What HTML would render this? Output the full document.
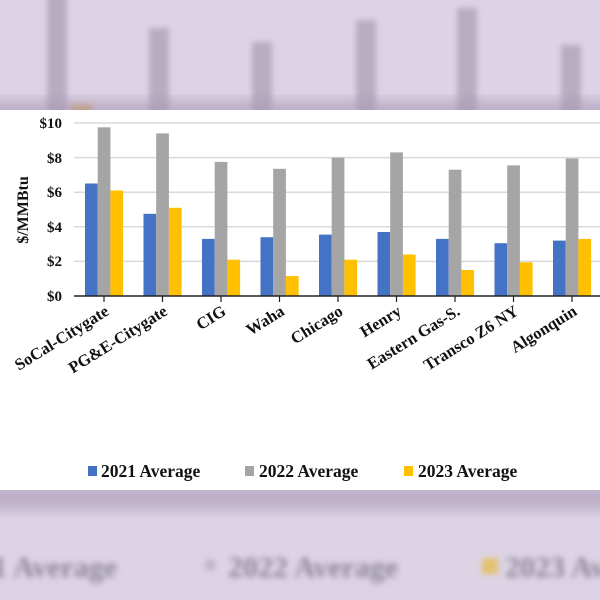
<!DOCTYPE html>
<html><head><style>
html,body{margin:0;padding:0;}
body{width:600px;height:600px;overflow:hidden;background:#dcd3e4;position:relative;font-family:"Liberation Serif",serif;}
</style></head><body>
<svg width="600" height="600" xmlns="http://www.w3.org/2000/svg" style="position:absolute;left:0;top:0">
<defs>
<filter id="b" x="-20%" y="-20%" width="140%" height="140%"><feGaussianBlur stdDeviation="3"/></filter>
<filter id="s" x="-10%" y="-30%" width="120%" height="160%"><feGaussianBlur stdDeviation="6"/></filter>
</defs>
<rect width="600" height="600" fill="#dcd3e4"/>
<g filter="url(#b)" fill="#b6adbf">
<rect x="47" y="-10" width="20" height="125"/>
<rect x="149" y="28" width="20" height="90"/>
<rect x="252" y="42" width="20" height="75"/>
<rect x="356" y="20" width="20" height="95"/>
<rect x="457" y="8" width="20" height="108"/>
<rect x="561" y="45" width="20" height="72"/>
<rect x="70" y="105" width="22" height="10" fill="#d9a860"/>
</g>
<rect x="-20" y="100" width="640" height="20" fill="#a898b4" filter="url(#s)" opacity="0.6"/>
<rect x="-20" y="485" width="640" height="25" fill="#a898b4" filter="url(#s)" opacity="0.6"/>
<g filter="url(#b)" font-family="Liberation Serif,serif" font-weight="bold" font-size="30" fill="#8e8796">
<text x="-8" y="577">1 Average</text>
<rect x="205" y="560" width="10" height="10" fill="#bdb6c4"/>
<text x="228" y="577">2022 Average</text>
<rect x="482" y="558" width="16" height="16" fill="#e3c170"/>
<text x="505" y="577">2023 Average</text>
</g>
<rect x="0" y="110" width="600" height="380" fill="#ffffff"/>
<g stroke="#d9d9d9" stroke-width="1.5">
<line x1="74" y1="123" x2="600" y2="123"/>
<line x1="74" y1="157.6" x2="600" y2="157.6"/>
<line x1="74" y1="192.2" x2="600" y2="192.2"/>
<line x1="74" y1="226.8" x2="600" y2="226.8"/>
<line x1="74" y1="261.4" x2="600" y2="261.4"/>
</g>
<g font-weight="bold" font-size="15" text-anchor="end" fill="#111">
<text x="62" y="128">$10</text>
<text x="62" y="163">$8</text>
<text x="62" y="197">$6</text>
<text x="62" y="232">$4</text>
<text x="62" y="266">$2</text>
<text x="62" y="301">$0</text>
</g>
<text transform="translate(28,210) rotate(-90)" text-anchor="middle" font-weight="bold" font-size="16" fill="#111">$/MMBtu</text>
<g fill="#4472c4">
<rect x="85" y="183.5" width="12.7" height="112.5"/>
<rect x="143.5" y="213.8" width="12.7" height="82.2"/>
<rect x="202" y="238.9" width="12.7" height="57.1"/>
<rect x="260.5" y="237.2" width="12.7" height="58.8"/>
<rect x="319" y="234.6" width="12.7" height="61.4"/>
<rect x="377.5" y="232" width="12.7" height="64"/>
<rect x="436" y="238.9" width="12.7" height="57.1"/>
<rect x="494.5" y="243.2" width="12.7" height="52.8"/>
<rect x="553" y="240.6" width="12.7" height="55.4"/>
</g>
<g fill="#a5a5a5">
<rect x="97.7" y="127.3" width="12.7" height="168.7"/>
<rect x="156.2" y="133.4" width="12.7" height="162.6"/>
<rect x="214.7" y="161.9" width="12.7" height="134.1"/>
<rect x="273.2" y="168.8" width="12.7" height="127.2"/>
<rect x="331.7" y="157.6" width="12.7" height="138.4"/>
<rect x="390.2" y="152.4" width="12.7" height="143.6"/>
<rect x="448.7" y="169.7" width="12.7" height="126.3"/>
<rect x="507.2" y="165.4" width="12.7" height="130.6"/>
<rect x="565.7" y="158.5" width="12.7" height="137.5"/>
</g>
<g fill="#ffc000">
<rect x="110.4" y="190.5" width="12.7" height="105.5"/>
<rect x="168.9" y="207.8" width="12.7" height="88.2"/>
<rect x="227.4" y="259.7" width="12.7" height="36.3"/>
<rect x="285.9" y="276.1" width="12.7" height="19.9"/>
<rect x="344.4" y="259.7" width="12.7" height="36.3"/>
<rect x="402.9" y="254.5" width="12.7" height="41.5"/>
<rect x="461.4" y="270" width="12.7" height="26"/>
<rect x="519.9" y="262.3" width="12.7" height="33.7"/>
<rect x="578.4" y="238.9" width="12.7" height="57.1"/>
</g>
<line x1="74" y1="296" x2="600" y2="296" stroke="#222" stroke-width="1.5"/>
<g stroke="#222" stroke-width="1.2">
<line x1="104" y1="296" x2="104" y2="302"/>
<line x1="162.5" y1="296" x2="162.5" y2="302"/>
<line x1="221" y1="296" x2="221" y2="302"/>
<line x1="279.5" y1="296" x2="279.5" y2="302"/>
<line x1="338" y1="296" x2="338" y2="302"/>
<line x1="396.5" y1="296" x2="396.5" y2="302"/>
<line x1="455" y1="296" x2="455" y2="302"/>
<line x1="513.5" y1="296" x2="513.5" y2="302"/>
<line x1="572" y1="296" x2="572" y2="302"/>
</g>
<g font-weight="bold" font-size="16.5" fill="#111" text-anchor="end">
<text transform="translate(110,314) rotate(-32)">SoCal-Citygate</text>
<text transform="translate(168.5,314) rotate(-32)">PG&amp;E-Citygate</text>
<text transform="translate(227,314) rotate(-32)">CIG</text>
<text transform="translate(285.5,314) rotate(-32)">Waha</text>
<text transform="translate(344,314) rotate(-32)">Chicago</text>
<text transform="translate(402.5,314) rotate(-32)">Henry</text>
<text transform="translate(461,314) rotate(-32)">Eastern Gas-S.</text>
<text transform="translate(519.5,314) rotate(-32)">Transco Z6 NY</text>
<text transform="translate(578,314) rotate(-32)">Algonquin</text>
</g>
<g font-weight="bold" font-size="17.5" fill="#111">
<rect x="88" y="466" width="9" height="10" fill="#4472c4"/>
<text x="101" y="477">2021 Average</text>
<rect x="245" y="466" width="9" height="10" fill="#a5a5a5"/>
<text x="259" y="477">2022 Average</text>
<rect x="404" y="466" width="9" height="10" fill="#ffc000"/>
<text x="418" y="477">2023 Average</text>
</g>
</svg>
</body></html>
